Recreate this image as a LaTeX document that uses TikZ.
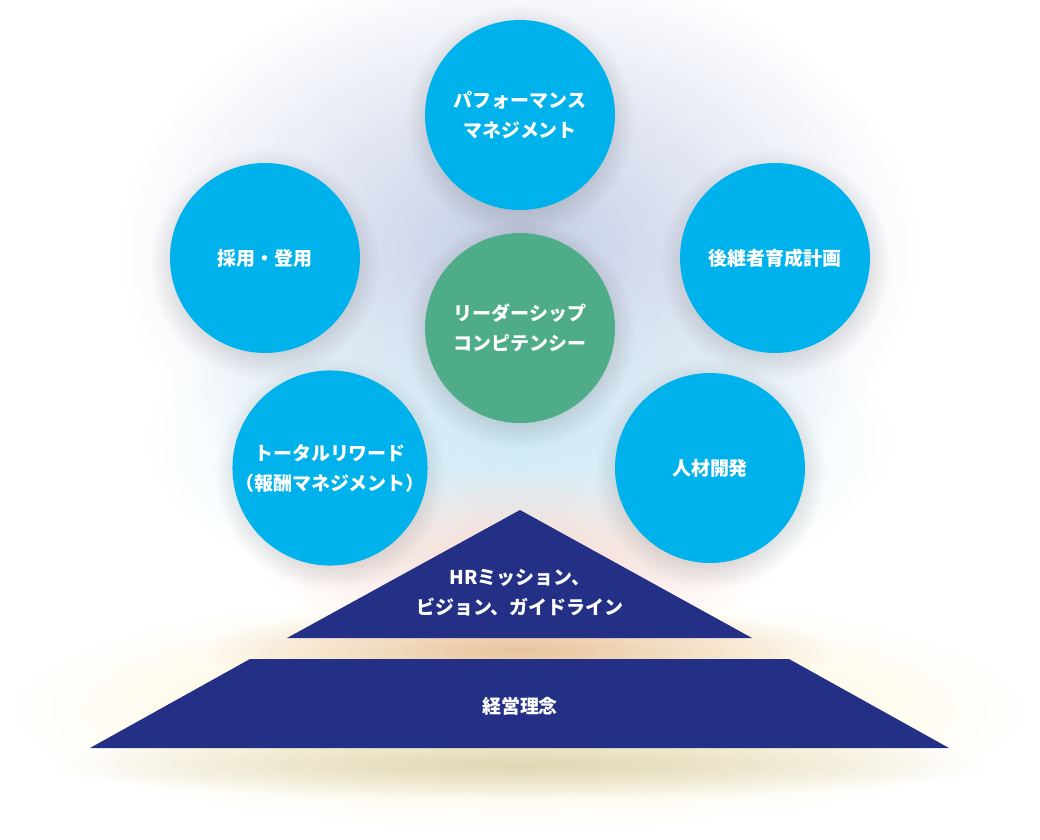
\documentclass[tikz,border=0pt]{standalone}
\usepackage{fontspec}
\newfontfamily\jpfont{Noto Sans CJK JP}
\usepackage{tikz}
\usetikzlibrary{fadings}
\definecolor{hrcyan}{HTML}{00B2EB}
\definecolor{hrgreen}{HTML}{4EAC88}
\definecolor{hrnavy}{HTML}{233086}
\definecolor{glowlav}{RGB}{194,204,228}
\definecolor{glowsky}{RGB}{208,236,247}
\definecolor{glowpink}{RGB}{250,218,208}
\definecolor{glowcream}{RGB}{253,240,200}
\definecolor{glowtan}{RGB}{232,196,158}
\definecolor{glowolive}{RGB}{222,214,180}
\pgfmathsetmacro{\dia}{3.8}
\tikzfading[name=softfade, inner color=transparent!0, outer color=transparent!100]
\tikzset{
	pillar/.style={circle, fill=hrcyan, minimum size=\dia cm, inner sep=0pt, text=white, align=center,
		font=\jpfont\bfseries\fontsize{10.8pt}{17pt}\selectfont},
	core/.style={pillar, fill=hrgreen},
	base/.style={text=white, align=center, font=\jpfont\bfseries\fontsize{10.8pt}{17pt}\selectfont},
	glow/.style={fill=#1, path fading=softfade}
}

\begin{document}
\begin{tikzpicture}[x=0.02cm, y=-0.02cm]
		\useasboundingbox (0,0) rectangle (1040,839);
		% soft background
		\fill[glow=glowlav] (519,250) ellipse [x radius=400, y radius=290];
		\fill[glow=glowsky] (519,440) ellipse [x radius=380, y radius=170];
		\fill[glow=glowpink] (519,560) ellipse [x radius=260, y radius=90];
		\fill[glow=glowcream] (519,710) ellipse [x radius=520, y radius=120];
		\fill[glow=glowtan] (519,650) ellipse [x radius=320, y radius=45];
		\fill[glow=glowolive] (519,765) ellipse [x radius=470, y radius=35];
		% circle shadows
		\foreach \cx/\cy in {520/115, 265/258, 775/258, 520/328, 330/468, 710/468}
			\fill[glow=black, fill opacity=0.5] (\cx,\cy+6) circle (115);
		% circles
		\node[pillar] (perf) at (520,115) {パフォーマンス\\マネジメント};
		\node[pillar] (recruit) at (265,258) {採用・登用};
		\node[pillar] (succession) at (775,258) {後継者育成計画};
		\node[core] (leader) at (520,328) {リーダーシップ\\コンピテンシー};
		\node[pillar] (reward) at (330,468) {トータルリワード\\（報酬マネジメント）};
		\node[pillar] (develop) at (710,468) {人材開発};
		% pyramid
		\fill[hrnavy] (520,510) -- (752,638) -- (287,638) -- cycle;
		\node[base] (mission) at (520,593) {HRミッション、\\ビジョン、ガイドライン};
		\fill[hrnavy] (250,659) -- (789,659) -- (949,748) -- (90,748) -- cycle;
		\node[base] (philosophy) at (520,706) {経営理念};
\end{tikzpicture}
\end{document}
